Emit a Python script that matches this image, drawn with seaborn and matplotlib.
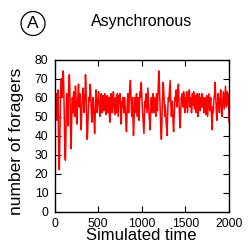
import numpy as np
import pandas as pd
import matplotlib
matplotlib.use("Agg")
import matplotlib.pyplot as plt
from matplotlib.patches import Ellipse
import seaborn as sns

time_step = 5
foragers = [
    0, 42, 50, 58, 62, 55, 48, 60, 64, 40,
    25, 22, 35, 50, 62, 68, 70, 60, 65, 72,
    74, 68, 55, 45, 30, 27, 38, 55, 62, 58,
    50, 45, 62, 68, 72, 66, 55, 40, 33, 45,
    55, 60, 52, 58, 63, 60, 50, 56, 66, 62,
    52, 46, 50, 58, 62, 67, 60, 55, 62, 58,
    48, 43, 50, 56, 60, 65, 62, 55, 52, 58,
    62, 72, 68, 58, 45, 38, 42, 50, 55, 60,
    58, 62, 67, 63, 55, 50, 47, 55, 60, 58,
    52, 45, 41, 48, 58, 64, 60, 55, 52, 57,
    60, 63, 58, 55, 50, 54, 60, 62, 57, 52,
    55, 61, 58, 53, 56, 62, 59, 55, 51, 54,
    58, 61, 55, 52, 57, 60, 50, 47, 53, 58,
    62, 57, 52, 55, 60, 63, 58, 54, 51, 56,
    60, 55, 52, 58, 62, 56, 50, 55, 61, 57,
    62, 58, 50, 46, 53, 58, 55, 60, 57, 52,
    56, 60, 55, 50, 45, 42, 50, 58, 62, 56,
    52, 58, 63, 66, 69, 62, 55, 50, 58, 60,
    48, 40, 45, 55, 60, 56, 52, 58, 62, 55,
    50, 56, 60, 54, 48, 58, 63, 60, 65, 68,
    62, 56, 52, 48, 45, 41, 50, 58, 55, 60,
    62, 57, 52, 58, 65, 60, 54, 50, 47, 43,
    50, 56, 60, 55, 52, 58, 62, 57, 52, 56,
    60, 55, 50, 57, 62, 58, 53, 60, 66, 74,
    70, 62, 55, 48, 42, 38, 45, 55, 62, 68,
    66, 60, 55, 50, 56, 52, 46, 44, 40, 48,
    55, 60, 58, 62, 67, 69, 62, 55, 50, 55,
    58, 52, 46, 42, 48, 55, 60, 58, 62, 64,
    58, 55, 60, 64, 67, 60, 52, 47, 44, 50,
    56, 60, 58, 62, 57, 55, 63, 60, 54, 52,
    57, 60, 55, 63, 58, 52, 56, 61, 59, 64,
    58, 55, 60, 57, 52, 55, 62, 59, 56, 63,
    58, 54, 57, 61, 56, 52, 59, 62, 55, 50,
    56, 58, 62, 57, 53, 56, 60, 55, 62, 58,
    55, 60, 57, 52, 56, 60, 55, 51, 57, 61,
    56, 50, 54, 58, 62, 57, 53, 56, 60, 55,
    50, 43, 48, 55, 52, 58, 60, 62, 68, 64,
    58, 52, 48, 54, 58, 62, 60, 55, 52, 57,
    60, 64, 58, 52, 50, 56, 60, 63, 58, 54,
    58, 62, 66, 60, 55, 58, 63, 60, 56, 62,
    47,
]
sim_time = [i * time_step for i in range(len(foragers))]
x_ticks = [0, 500, 1000, 1500, 2000]
y_ticks = [0, 10, 20, 30, 40, 50, 60, 70, 80]

sns.set_style("ticks")
plt.rcParams['font.family'] = ['Liberation Sans', 'DejaVu Sans']
plt.rcParams['text.color'] = 'black'
plt.rcParams['axes.labelcolor'] = 'black'
plt.rcParams['xtick.color'] = 'black'
plt.rcParams['ytick.color'] = 'black'

df = pd.DataFrame({"Simulated time": sim_time, "number of foragers": foragers})

W, H = 248, 244
fig = plt.figure(figsize=(W / 100, H / 100), dpi=100)
ax = fig.add_axes([54.5 / W, 1 - 211.5 / H, 174.5 / W, 152 / H])
sns.lineplot(data=df, x="Simulated time", y="number of foragers", ax=ax,
             color="#ff0000", linewidth=1.1)
ax.set_xlim(0, 2000)
ax.set_ylim(0, 80)
ax.set_xticks(x_ticks)
ax.set_yticks(y_ticks)
ax.tick_params(direction="in", length=4, width=0.8, top=True, right=True,
               labelsize=8.8, colors="black")
ax.tick_params(axis="y", pad=4.5)
ax.tick_params(axis="x", pad=4.5)
for s in ax.spines.values():
    s.set_linewidth(1.0)
    s.set_color("black")
ax.set_xlabel("Simulated time", fontsize=12)
ax.set_ylabel("number of foragers", fontsize=12.5)
ax.xaxis.set_label_coords((141.75 - 54.5) / 174.5, (211.5 - 236) / 152)
ax.xaxis.label.set_va("center")
ax.yaxis.set_label_coords((17 - 54.5) / 174.5, (211.5 - 141.5) / 152)
ax.yaxis.label.set_va("center")
fig.text(141.5 / W, 1 - 21.5 / H, "Asynchronous", ha="center", va="center", fontsize=11.5)
circ = Ellipse((33 / W, 1 - 23.5 / H), 24 / W, 24 / H, transform=fig.transFigure,
               fill=False, edgecolor="black", linewidth=0.9)
fig.patches.append(circ)
fig.text(33 / W, 1 - 23.5 / H, "A", ha="center", va="center", fontsize=12.5)
fig.savefig("out.png", dpi=100)
